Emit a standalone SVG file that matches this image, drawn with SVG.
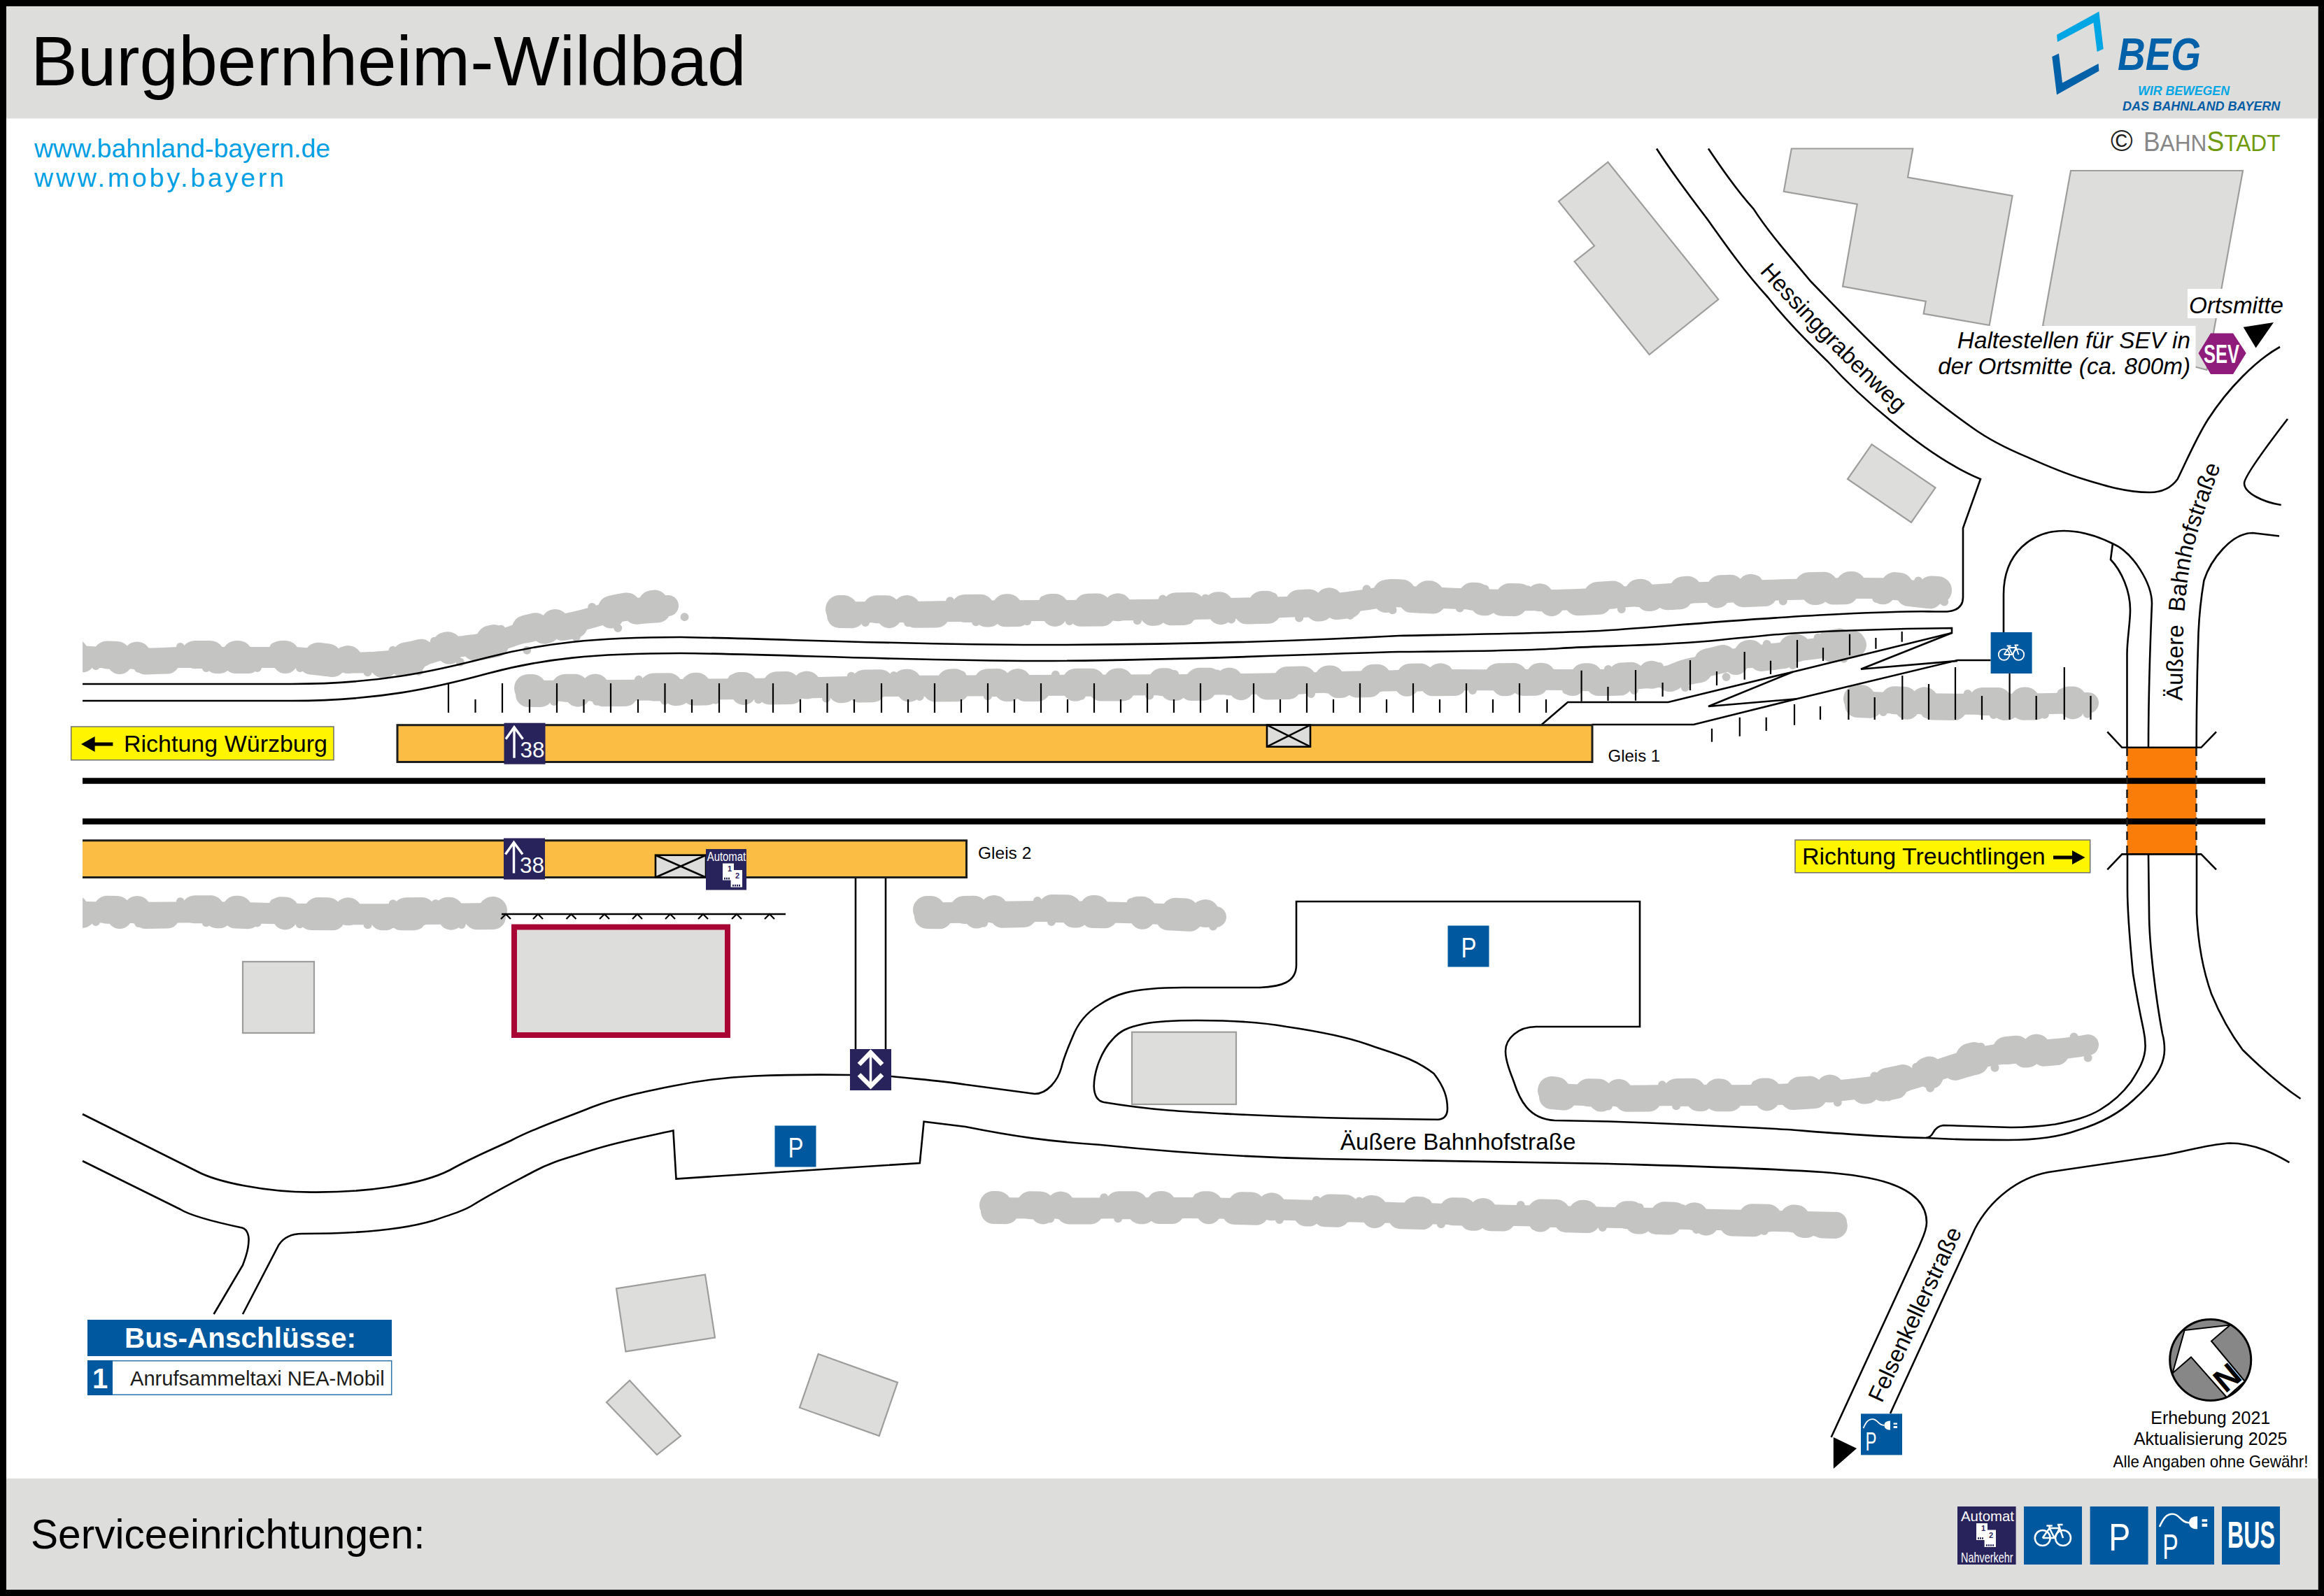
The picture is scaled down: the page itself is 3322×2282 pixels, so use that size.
<svg xmlns="http://www.w3.org/2000/svg" xmlns:xlink="http://www.w3.org/1999/xlink" width="3322" height="2282" viewBox="0 0 3322 2282">
<style>
text{font-family:"Liberation Sans",Arial,sans-serif;fill:#000}
.w{fill:#fff}
.road{fill:none;stroke:#000;stroke-width:2.6;stroke-linejoin:miter}
.tick{fill:none;stroke:#000;stroke-width:2.2}
.bld{fill:#dddddc;stroke:#9d9d9c;stroke-width:2.2}
.k1,.k2,.k3,.k4{fill:none;stroke:#c4c4c2;stroke-linecap:round;stroke-linejoin:round}
.k1{stroke-width:30}
.k2{stroke-width:40;stroke-dasharray:6 47 14 29 0 83 22 37 3 61}
.k3{stroke-width:36;stroke-dasharray:18 53 0 37 31 71 4 23}
.k4{stroke-width:12;stroke-dasharray:0 61 0 97 0 73}
.blue{fill:#00589f}
.navy{fill:#29235c}
.plat{fill:#fbbd43}
.edge{fill:none;stroke:#1d1d1b;stroke-width:3}
.yel{fill:#fff500;stroke:#6f6f6e;stroke-width:1.5}
.rail{fill:none;stroke:#000;stroke-width:8.5}
.shel{fill:#dddddc;stroke:#000;stroke-width:2.6}
.it{font-style:italic;font-size:33.3px}
.wl{fill:none;stroke:#fff;stroke-linecap:butt}
</style>
<defs>
<clipPath id="clipveg"><rect x="118" y="200" width="3100" height="1800"/></clipPath>
<path id="b1" d="M100 937C200 945 230 940 261 940S380 940 416 940S490 950 530 947S580 945 617 933S690 925 731 910S800 897 846 883S910 870 955 866"/>
<path id="b2" d="M1200 875C1300 876 1400 873 1483 873S1720 871 1801 869S1900 865 1949 858S1980 852 1992 852S2130 860 2225 858S2340 850 2436 847S2570 842 2648 841S2730 846 2770 848"/>
<path id="b3" d="M755 988C850 988 960 986 1060 985S1180 982 1270 981S1550 980 1695 979S1900 975 2000 973S2110 973 2172 972S2290 974 2344 970S2380 968 2402 960S2430 955 2459 947S2530 936 2574 930S2625 925 2650 917"/>
<path id="b4" d="M2655 1003C2750 1008 2850 1008 2985 1005"/>
<path id="b5" d="M100 1303C200 1308 260 1302 350 1305S560 1308 705 1306"/>
<path id="b6" d="M1325 1305C1380 1306 1430 1303 1483 1303S1650 1305 1738 1311"/>
<path id="b7" d="M2218 1563C2290 1570 2370 1565 2436 1566S2590 1565 2669 1555S2760 1530 2818 1515S2930 1505 2985 1494"/>
<path id="b8" d="M1420 1727C1520 1728 1610 1727 1695 1727S2000 1735 2119 1737S2500 1745 2625 1748"/>
<g id="s-bike"><rect width="59" height="59" class="blue"/><g fill="none" stroke="#fff" stroke-width="1.8"><circle cx="19" cy="32" r="7.8"/><circle cx="39.8" cy="32" r="7.8"/><path d="M19 32L26 22H36.5L39.8 32M26 22L31 32H19M31 32L36.5 22M23 19.5H29M26 19.5V22M35 18.5L36.5 22M34 18.5H39.5"/></g></g>
<g id="s-p"><rect width="59" height="59" class="blue"/><text x="19" y="45" font-size="40" class="w" textLength="22" lengthAdjust="spacingAndGlyphs">P</text></g>
<g id="s-ev"><rect width="59" height="59" class="blue"/><path d="M3.5 20.6C7 13 10 7.7 16.7 7.7C24 7.7 25 16.5 33.4 16.5" fill="none" stroke="#fff" stroke-width="1.8"/><path d="M33.4 16C34 12 37 10 42 10V23C37 23 34 21 33.4 17Z M46.6 13H52V15.4H46.6Z M46.6 17.5H52V20.6H46.6Z" fill="#fff"/><text x="6.5" y="53" font-size="36" class="w" textLength="16" lengthAdjust="spacingAndGlyphs">P</text></g>
<g id="s-38"><rect width="59" height="59" class="navy"/><path d="M14.5 50V7M2.5 23L14.5 6L27 23" class="wl" stroke-width="3.4"/><text x="23" y="49.7" font-size="31" class="w" textLength="35" lengthAdjust="spacingAndGlyphs">38</text></g>
<g id="tk"><path d="M0 0H16V9.4H28V34H11.6V24H0Z" fill="#fff"/><text x="10" y="11" font-size="11" font-weight="bold" text-anchor="middle" style="fill:#29235c">1</text><text x="21" y="21" font-size="11" font-weight="bold" text-anchor="middle" style="fill:#29235c">2</text><path d="M2 21.5H10M14 31.5H26" stroke="#29235c" stroke-width="2.6" stroke-dasharray="2 1"/></g>
</defs>

<rect width="3322" height="2282" fill="#000"/>
<rect x="9" y="9" width="3304.5" height="2264" fill="#fff"/>

<g id="header">
<rect x="9" y="9" width="3304.5" height="160.5" fill="#dddddc"/>
<text x="44" y="122" font-size="100">Burgbernheim-Wildbad</text>
</g>
<g id="footer">
<rect x="9" y="2114" width="3304.5" height="159" fill="#dddddc"/>
<text x="44" y="2214" font-size="58.6">Serviceeinrichtungen:</text>
</g>
<g id="links">
<text x="49" y="225" font-size="37.5" style="fill:#009fe3">www.bahnland-bayern.de</text>
<text x="49" y="267" font-size="37.5" letter-spacing="3.8" style="fill:#009fe3">www.moby.bayern</text>
</g>
<g id="logo-beg">
<path d="M2940 49.8L3000.4 16.5L3006.7 70L2997.6 73.9L2992.5 32.5L2941 60Z" fill="#00a6e4"/>
<path d="M2933.3 81L2943 76.5L2948 118.6L2999.6 91L3000.4 101.4L2940 135.5Z" fill="#0060a8"/>
<text x="3027" y="100.3" font-size="65" font-weight="bold" font-style="italic" textLength="119" lengthAdjust="spacingAndGlyphs" style="fill:#0060a8">BEG</text>
<text x="3056" y="136" font-size="18.7" font-weight="bold" font-style="italic" textLength="131" lengthAdjust="spacingAndGlyphs" style="fill:#00a6e4">WIR BEWEGEN</text>
<text x="3034" y="157.7" font-size="18.7" font-weight="bold" font-style="italic" textLength="225.4" lengthAdjust="spacingAndGlyphs" style="fill:#005ca4">DAS BAHNLAND BAYERN</text>
</g>
<g id="logo-bahnstadt">
<text x="3017" y="216" font-size="43" style="fill:#1d1d1b">©</text>
<text x="3064" y="216" font-size="34" textLength="195.5" lengthAdjust="spacingAndGlyphs" style="fill:#878787"><tspan font-size="38">B</tspan>AHN<tspan font-size="40" style="fill:#6f9a0d">S</tspan><tspan style="fill:#6f9a0d">TADT</tspan></text>
</g>

<g id="buildings">
<path class="bld" d="M2298.4 231.7L2456.3 428L2357.6 507L2250.6 374L2279 351.5L2228 288Z"/>
<path class="bld" d="M2560.8 212.5H2734.3L2727 253.5L2876.6 280L2843.7 465L2749.6 448.5L2752.8 431L2634 409.6L2654.7 292L2549.8 273.8Z"/>
<path class="bld" d="M2960 244H3206L3154.4 529L2920 466Z"/>
<path class="bld" d="M2675.5 635.4L2766.5 697.4L2732 747L2641 685Z"/>
<rect class="bld" x="347" y="1375" width="102" height="102"/>
<rect class="bld" x="1618" y="1475.7" width="149" height="103.3"/>
<path class="bld" d="M881 1842.4L1008 1822.5L1022 1912.5L894.4 1932.4Z"/>
<path class="bld" d="M1169.7 1936L1283 1976.7L1256.7 2053L1143 2012.7Z"/>
<path class="bld" d="M900 1973.7L973 2053L939 2080L867 2005Z"/>
</g>

<g id="vegetation" clip-path="url(#clipveg)">
<use href="#b1" class="k1"/><use href="#b1" class="k2" y="-4"/><use href="#b1" class="k3" y="5"/><use href="#b1" class="k4" y="-15"/><use href="#b1" class="k4" x="37" y="15"/>
<use href="#b2" class="k1"/><use href="#b2" class="k2" y="-4"/><use href="#b2" class="k3" y="5"/><use href="#b2" class="k4" y="-15"/><use href="#b2" class="k4" x="37" y="15"/>
<use href="#b3" class="k1"/><use href="#b3" class="k2" y="-4"/><use href="#b3" class="k3" y="5"/><use href="#b3" class="k4" y="-15"/><use href="#b3" class="k4" x="37" y="15"/>
<use href="#b4" class="k1"/><use href="#b4" class="k2" y="-4"/><use href="#b4" class="k3" y="5"/><use href="#b4" class="k4" y="-15"/><use href="#b4" class="k4" x="37" y="15"/>
<use href="#b5" class="k1"/><use href="#b5" class="k2" y="-4"/><use href="#b5" class="k3" y="5"/><use href="#b5" class="k4" y="-15"/><use href="#b5" class="k4" x="37" y="15"/>
<use href="#b6" class="k1"/><use href="#b6" class="k2" y="-4"/><use href="#b6" class="k3" y="5"/><use href="#b6" class="k4" y="-15"/><use href="#b6" class="k4" x="20" y="15"/>
<use href="#b7" class="k1"/><use href="#b7" class="k2" y="-4"/><use href="#b7" class="k3" y="5"/><use href="#b7" class="k4" y="-15"/><use href="#b7" class="k4" x="20" y="15"/>
<use href="#b8" class="k1"/><use href="#b8" class="k2" y="-4"/><use href="#b8" class="k3" y="5"/><use href="#b8" class="k4" y="-15"/><use href="#b8" class="k4" x="20" y="15"/>
</g>

<g id="connectors">
<path class="road" d="M118 978H416C540 978 620 960 697 940S850 911 973 911C1100 913 1300 922 1483 922S1850 917 2000 909C2100 907 2230 905 2287 902S2500 884 2631 878S2740 875 2783 874.5C2800 873 2806 865 2806 854V755L2831 685C2790 668 2745 637 2702 601C2670 575 2640 547 2612.7 517C2580 485 2555 460 2527 425C2495 390 2470 355 2441 314C2415 280 2390 247 2368 212.5"/>
<path class="road" d="M118 1002H416C540 1002 620 984 697 963S850 934 973 934C1100 935 1300 945 1483 945S1850 936 2000 932C2100 931 2170 931 2230 927S2370 924 2459 915S2560 905 2631 902S2730 899 2790 898V905L2562.6 960.7L2384.6 1004H2241L2203.8 1036"/>
<path class="road" d="M2562.6 960.7L2442 1010L2568.3 999.3"/>
<path class="road" d="M2275.6 1036H2421L2568.3 999.3L2798 944H2845.6"/>
<path class="road" d="M2790 905L2660 956.7L2798 945"/>
<path class="road" d="M2864 904V850C2864 790 2905 759 2950 759C2975 759 2997 766 3019.4 777C3050 790 3076 835 3076 863C3074 910 3071 990 3071 1069"/>
<path class="road" d="M3020 777L3017 800C3033 817 3045 845 3045 872C3045 890 3040.5 915 3040.5 935V1069"/>
<path class="road" d="M3139.7 1069C3139.7 1000 3141 950 3142.5 905C3144 870 3147 850 3150.4 830C3160 800 3190 762 3220 762L3258 766.5"/>
<path class="road" d="M3260.7 722C3235 718 3208 705 3208 691C3208 680 3250 625 3270 599"/>
<path class="road" d="M2442 212.5C2463 244 2485 275 2506.5 298.6C2530 335 2560 368 2588 402C2620 435 2655 472 2690 505C2725 540 2775 580 2820 612C2845 630 2870 642 2898 653.6C2930 668 2955 678 2978 685C3010 695 3040 704 3073 704C3090 704 3104 697 3112.7 685C3125 660 3140 625 3156 600C3185 555 3225 515 3259 496"/>
<path class="road" d="M118 1593L282 1675C310 1690 380 1705 448 1704.6C520 1705 600 1695 643 1673C675 1655 700 1645 730 1631C770 1610 810 1598 846 1583C885 1568 925 1560 962 1552.7C1000 1545 1040 1540 1078 1538.5C1115 1537 1150 1536 1215 1537"/>
<path class="road" d="M1274 1539C1310 1543 1345 1545 1380 1550.7L1479 1564C1497 1564 1512 1545 1517 1527C1521 1510 1526 1500 1533 1483C1541 1462 1553 1448 1571 1437C1590 1424 1612 1412 1692 1412H1801C1830 1411 1853 1405 1853 1380V1289H2344V1468H2196C2170 1468 2152 1485 2152 1503C2152 1520 2160 1535 2164 1547C2172 1572 2185 1600 2222 1602L2300 1603.5C2400 1607 2480 1611 2555 1615C2620 1620 2690 1626 2753 1627C2800 1630 2840 1630 2871 1630C2910 1630 2945 1625 2970 1616C3000 1607 3030 1592 3052.5 1570C3075 1550 3094 1525 3094 1501C3094 1490 3093 1485 3091 1478C3082 1430 3072 1350 3072 1306L3071 1222"/>
<path class="road" d="M2753 1627Q2760 1626 2763 1620Q2768 1610 2778 1609L2874 1612C2900 1612 2920 1610 2938 1607.5C2965 1602 2985 1597 3001.5 1587C3020 1576 3035 1562 3046 1547C3057 1530 3066.6 1515 3066.6 1495.5C3066.6 1485 3066 1482 3064 1472.6C3055 1430 3049 1392 3049 1392C3045 1350 3041 1310 3041 1271.7V1222"/>
<path class="road" d="M3140 1222V1306C3142 1350 3150 1390 3161 1421C3175 1455 3190 1480 3205.6 1501C3230 1525 3260 1552 3288.5 1571"/>
<path class="road" d="M347 1879L398.5 1780C405 1770 415 1764 431.7 1764C500 1764 570 1760 620 1745C650 1735 665 1730 676 1723C705 1705 735 1690 763 1675C790 1660 815 1655 846 1644.6C885 1632 925 1625 962.4 1616.6L966.5 1685.5L1314.8 1663L1320.6 1603.6L1380 1611C1450 1625 1500 1632 1571 1636.7C1700 1650 1800 1655 1890 1657C2050 1661 2180 1661 2300 1664C2400 1667 2520 1670 2606 1676C2660 1680 2754 1690 2754 1748C2754 1760 2748 1770 2743 1782.6L2617.6 2055"/>
<path class="road" d="M118 1660L257.5 1729C275 1740 320 1750 346 1755.5C355 1758 356 1770 355.4 1775C355 1790 350 1800 347 1809L305.6 1879"/>
<path class="road" d="M3272.5 1662C3255 1652 3225 1634.5 3186.5 1634.5C3150 1637 3120 1648 3084 1653L2928 1676C2885 1684 2845 1715 2823 1757L2702 2021"/>
<path class="road" d="M1577.7 1576C1650 1588 1700 1590 1762.6 1593C1860 1598 1960 1600 2056 1600.7C2064 1600 2069 1596 2069 1585C2069 1570 2065 1555 2049.6 1535C2020 1512 1990 1506 1954 1493C1920 1481 1880 1474 1839 1468C1795 1460 1750 1459 1711.6 1459C1690 1459 1660 1459 1635 1464C1610 1469 1600 1475 1590.5 1486C1575 1502 1564 1530 1563.7 1553C1564 1565 1568 1574 1577.7 1576Z"/>
<path class="road" d="M1223 1255V1500M1266 1255V1500"/>
<path class="road" d="M717 1307H1123"/>
<path class="tick" d="M716 1314L723 1307L730 1314M762 1314L769 1307L776 1314M809.500 1314L816.500 1307L823.500 1314M857 1314L864 1307L871 1314M904 1314L911 1307L918 1314M951 1314L958 1307L965 1314M998 1314L1005 1307L1012 1314M1046 1314L1053 1307L1060 1314M1093 1314L1100 1307L1107 1314"/>
<path class="tick" d="M641 977V1019M679.500 1000V1019M718 977V1019M757 1000V1019M796 977V1019M834.500 1000V1019M873 977V1019M912 1000V1019M950.500 977V1019M989 1000V1019M1028 977V1019M1066.500 1000V1019M1105 977V1019M1144 1000V1019M1182.500 977V1019M1221 1000V1019M1260 977V1019M1298 1000V1019M1336 977V1019M1374 1000V1019M1412 977V1019M1450 1000V1019M1488 977V1019M1526 1000V1019M1564 977V1019M1602 1000V1019M1640 977V1019M1678 1000V1019M1716 977V1019M1754 1000V1019M1792 977V1019M1830 1000V1019M1868 977V1019M1906 1000V1019M1944 977V1019M1982 1000V1019M2020 977V1019M2058 1000V1019M2096 977V1019M2134 1000V1019M2172 977V1019M2210 1000V1019"/>
<path class="tick" d="M2260.600 958.700V1002.700M2298.500 982V1002M2338 958V1001.700M2376.600 976V996M2416 944V987M2454 960V980M2493.700 932V971.700M2531 944.700V964M2569 915V954.700M2606 926V945M2644 906.700V937M2681.400 912V927.700M2718.700 903V917.700"/>
<path class="tick" d="M2447 1041.700V1060.700M2486.800 1025.700V1052.700M2524.700 1025.700V1045M2565 1007V1036.700M2602 1010V1029M2642.400 986V1029M2679.700 997V1029M2719.300 966V1029M2757 978V1029M2795 954V1029M2833 995V1029M2872.600 963V1029M2910.700 995V1029M2950.800 954V1029M2988.500 995V1029"/>
</g>

<g id="tracks">
<rect x="3040.500" y="1069" width="99" height="152.500" fill="#fa7d09"/>
<path class="rail" d="M118 1116.500H3238M118 1174.500H3238"/>
<path d="M3040.500 1069V1221.500M3139.500 1069V1221.500" fill="none" stroke="#1d1d1b" stroke-width="2.600" stroke-dasharray="12 8"/>
<path class="road" d="M3012.300 1046.400L3033.300 1068.800H3146.400L3168 1046.400M3012.300 1243.300L3033.300 1221.400H3146.400L3168 1243.300"/>
</g>

<g id="platform-1">
<rect x="568" y="1036.700" width="1708" height="52.800" class="plat"/>
<rect x="568" y="1036.700" width="1708" height="52.800" class="edge"/>
<text x="2298.500" y="1089" font-size="24">Gleis 1</text>
</g>
<g id="platform-2">
<rect x="118" y="1201.700" width="1263.500" height="52.800" class="plat"/>
<path class="edge" d="M118 1201.700H1381.500V1254.500H118"/>
<text x="1398" y="1227.500" font-size="24.500">Gleis 2</text>
</g>

<g id="station-building">
<rect x="735" y="1325.500" width="305" height="154.500" fill="#dddddc" stroke="#a80434" stroke-width="8"/>
</g>

<g id="shelter-1"><rect class="shel" x="1811" y="1036.700" width="62" height="31"/><path class="shel" d="M1811 1036.700L1873 1067.700M1873 1036.700L1811 1067.700"/></g>
<g id="shelter-2"><rect class="shel" x="937" y="1222.700" width="72" height="31.800"/><path class="shel" d="M937 1222.700L1009 1254.500M1009 1222.700L937 1254.500"/></g>

<g id="sign-38-1"><use href="#s-38" x="720.500" y="1033.700"/></g>
<g id="sign-38-2"><use href="#s-38" x="720" y="1198.500"/></g>
<g id="sign-automat"><rect x="1009" y="1214" width="58" height="58.500" class="navy"/><text x="1010.700" y="1230.800" font-size="18" class="w" textLength="55.500" lengthAdjust="spacingAndGlyphs">Automat</text><use href="#tk" x="1033" y="1234.600"/></g>
<g id="sign-lift"><rect x="1215" y="1500" width="59" height="59" class="navy"/><path class="wl" stroke-width="3.500" d="M1244.500 1508V1550"/><path class="wl" stroke-width="6.500" d="M1228 1522L1244.500 1505L1261 1522M1228 1536.500L1244.500 1553L1261 1536.500"/></g>
<g id="sign-p-1"><use href="#s-p" x="1107.500" y="1609.500"/></g>
<g id="sign-p-2"><use href="#s-p" x="2069.500" y="1323.500"/></g>
<g id="sign-bike"><use href="#s-bike" x="2845.600" y="904"/></g>
<g id="sign-ev"><use href="#s-ev" x="2660" y="2021.400"/></g>

<g id="dir-wuerzburg">
<rect class="yel" x="101.700" y="1039" width="375.300" height="47.700"/>
<path d="M116 1064L135.600 1053V1061.500H161.400V1066.500H135.600V1075Z" fill="#000"/>
<text x="177" y="1075" font-size="34">Richtung Würzburg</text>
</g>
<g id="dir-treuchtlingen">
<rect class="yel" x="2566" y="1201" width="421.700" height="46.800"/>
<text x="2576" y="1236" font-size="34">Richtung Treuchtlingen</text>
<path d="M2980.500 1226L2962 1216V1223.500H2935V1228.500H2962V1236Z" fill="#000"/>
</g>

<g id="bus-legend">
<rect x="125" y="1887" width="435" height="52" class="blue"/>
<text x="343.500" y="1927" font-size="40.500" font-weight="bold" text-anchor="middle" class="w">Bus-Anschlüsse:</text>
<rect x="125.700" y="1945.700" width="434" height="48.500" fill="#fff" stroke="#2a74b0" stroke-width="1.500"/>
<rect x="125" y="1945" width="36" height="50" class="blue"/>
<text x="143" y="1985" font-size="40" font-weight="bold" text-anchor="middle" class="w">1</text>
<text x="186" y="1980.700" font-size="29.100" style="fill:#1d1d1b">Anrufsammeltaxi NEA-Mobil</text>
</g>

<g id="labels">
<text font-size="33"><textPath href="#p-hess" xlink:href="#p-hess">Hessinggrabenweg</textPath></text>
<text font-size="33" word-spacing="9"><textPath href="#p-bahn" xlink:href="#p-bahn">Äußere Bahnhofstraße</textPath></text>
<text x="1915.700" y="1644" font-size="33.300">Äußere Bahnhofstraße</text>
<text transform="translate(2690 2007) rotate(-65)" font-size="33">Felsenkellerstraße</text>
<path id="p-hess" d="M2515 389Q2600 485 2707 586" fill="none"/>
<path id="p-bahn" d="M3119.400 1002L3120.600 912.500Q3122 860 3130 810T3175 665" fill="none"/>
</g>

<g id="sev">
<rect x="2771" y="466" width="367.500" height="77" fill="#fff"/>
<rect x="3127" y="413" width="136" height="42" fill="#fff"/>
<text x="3129" y="447.700" class="it">Ortsmitte</text>
<text x="3131" y="497.500" class="it" text-anchor="end">Haltestellen für SEV in</text>
<text x="3131" y="534.600" class="it" text-anchor="end">der Ortsmitte (ca. 800m)</text>
<path d="M3142.500 505L3160 476.500H3192L3210.700 505L3192 535H3160Z" fill="#8f1b7a"/>
<text x="3150" y="518.600" font-size="37" font-weight="bold" class="w" textLength="51" lengthAdjust="spacingAndGlyphs">SEV</text>
<path d="M3206.700 467.700L3250 461L3224.600 497.500Z" fill="#000"/>
</g>
<path id="arrow-felsenkeller" d="M2620.800 2055L2654 2071L2620.800 2100Z" fill="#000"/>

<g id="compass">
<circle cx="3159.700" cy="1944.500" r="58" fill="#878787" stroke="#000" stroke-width="3"/>
<path d="M3122.700 1902L3187.800 1894.500L3161 1917.500L3208.800 1975L3183 1998L3132 1940.400L3105.500 1963.400Z" fill="#fff" stroke="#000" stroke-width="2"/>
<text transform="translate(3183 1969) rotate(-40)" y="17" font-size="47" font-weight="bold" text-anchor="middle">N</text>
</g>
<g id="notes" font-size="25" text-anchor="middle">
<text x="3159.700" y="2036">Erhebung 2021</text>
<text x="3159.700" y="2065.600">Aktualisierung 2025</text>
<text x="3160" y="2098" font-size="24" textLength="279" lengthAdjust="spacingAndGlyphs">Alle Angaben ohne Gewähr!</text>
</g>

<g id="service-icons">
<g id="svc-automat"><rect x="2798" y="2154" width="83.600" height="83" class="navy"/><text x="2803" y="2175" font-size="21" class="w" textLength="76" lengthAdjust="spacingAndGlyphs">Automat</text><use href="#tk" x="2825" y="2178"/><text x="2803" y="2234" font-size="21" class="w" textLength="74.500" lengthAdjust="spacingAndGlyphs">Nahverkehr</text></g>
<g id="svc-bike"><use href="#s-bike" transform="translate(2893 2154) scale(1.407)"/></g>
<g id="svc-p"><use href="#s-p" transform="translate(2987.600 2154) scale(1.407)"/></g>
<g id="svc-ev"><use href="#s-ev" transform="translate(3082 2154) scale(1.407)"/></g>
<g id="svc-bus"><rect x="3176" y="2154" width="83" height="83" class="blue"/><text x="3184" y="2213" font-size="53" font-weight="bold" class="w" textLength="68" lengthAdjust="spacingAndGlyphs">BUS</text></g>
</g>
</svg>
